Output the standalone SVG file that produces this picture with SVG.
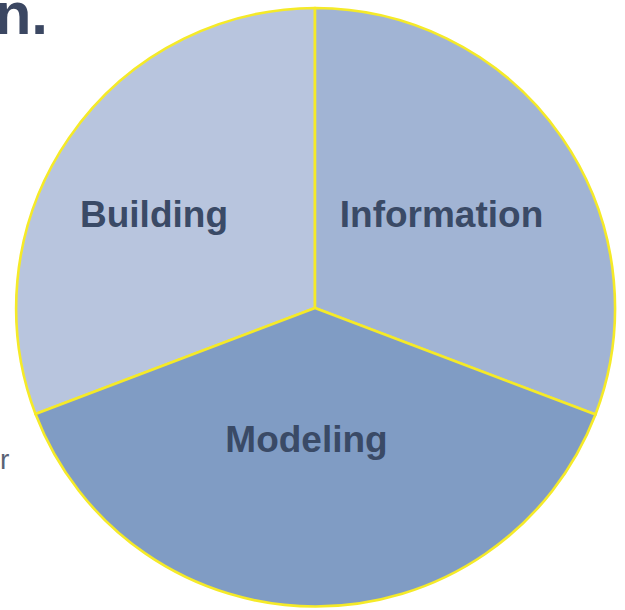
<svg xmlns="http://www.w3.org/2000/svg" width="625" height="610" viewBox="0 0 625 610">
<style>
.seg{stroke:#F5EA28;stroke-width:2.6;stroke-linejoin:round}
.lbl{font-family:"Liberation Sans",Arial,sans-serif;font-weight:bold;font-size:37px;fill:#3A4A66;text-anchor:middle}
</style>
<rect width="625" height="610" fill="#FFFFFF"/>
<text x="48" y="34" font-family="Liberation Sans, Arial, sans-serif" font-weight="bold" font-size="60" fill="#3B4762" text-anchor="end">n.</text>
<text x="0" y="469" font-family="Liberation Sans, Arial, sans-serif" font-size="28" fill="#5A6275">r</text>
<g id="connectors"></g>
<g id="building">
<path class="seg" fill="#B8C5DE" d="M315,308 L315,8 A300,300 0 0 0 35.5,414 Z"/>
<text class="lbl" x="154" y="227">Building</text>
</g>
<g id="information">
<path class="seg" fill="#A1B4D4" d="M315,308 L315,8 A300,300 0 0 1 595.5,414.5 Z"/>
<text class="lbl" x="441.5" y="227">Information</text>
</g>
<g id="modeling">
<path class="seg" fill="#809CC4" d="M315,308 L595.5,414.5 A300,300 0 0 1 35.5,414 Z"/>
<text class="lbl" x="306.5" y="452">Modeling</text>
</g>
</svg>
